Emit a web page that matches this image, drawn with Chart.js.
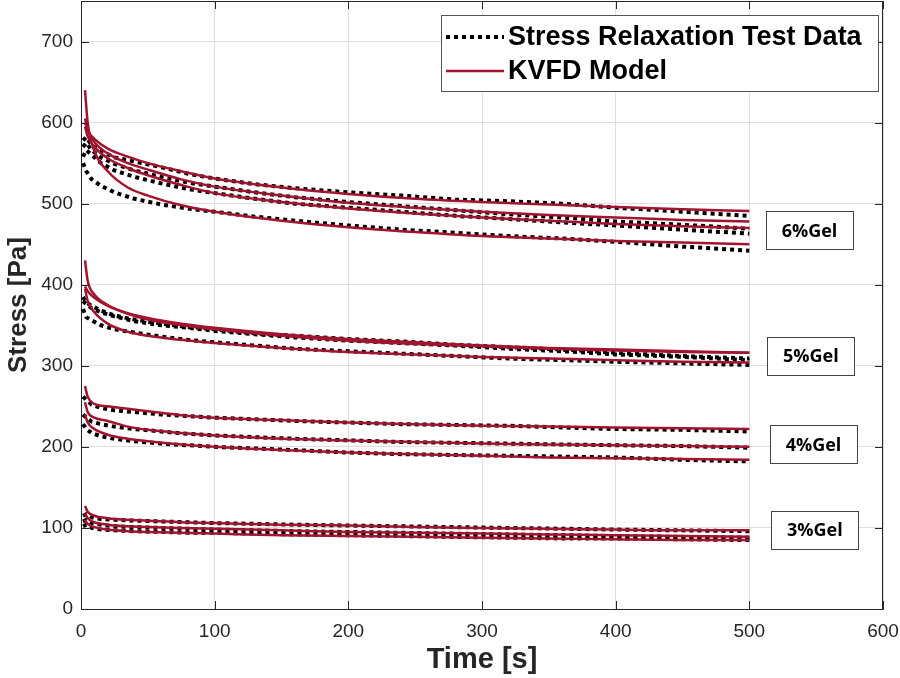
<!DOCTYPE html>
<html>
<head>
<meta charset="utf-8">
<script src="https://cdn.jsdelivr.net/npm/chart.js@4.4.0/dist/chart.umd.min.js"></script>
<style>
body{margin:0;background:#fff;}
</style>
</head>
<body>
<canvas id="chart" width="900" height="678"></canvas>
<script>

// time points (s)
let tModel=[3,5,10,20,35,50,75,100,150,200,250,300,350,400,450,500];
let tData=[1.5,4,8,15,25,40,60,80,100,130,160,200,240,280,320,360,400,450,500];

// KVFD model fits (Pa)
let model6a=[600,590,580,568,558,550,540,531,520,512,506,502,499,496,493,491];
let model6b=[605,592,576,562,550,542,530,521,510,501,495,490,486,483,480,478];
let model6c=[595,583,570,556,544,535,523,513,502,494,488,483,479,475,472,470];
let model6d=[640,600,565,540,520,510,498,490,479,471,465,460,457,454,452,450];
let model5a=[430,405,388,375,364,357,350,345,337,331,327,324,321,319,317,316];
let model5b=[398,392,384,374,365,359,352,347,339,333,329,325,322,320,318,316];
let model5c=[395,380,366,352,342,337,332,328,322,317,314,311,309,307,305,304];
let model4a=[275,262,253,250,247,244,239,236,233,230,228,226,225,224,223,222];
let model4b=[255,243,236,232,225,221,217,214,210,208,206,204,203,202,201,200];
let model4c=[240,230,222,215,210,207,203,200,196,193,191,189,187,186,185,184];
let model3a=[127,120,115,112,110,109,107,106,104,103,101,100,99,98,97,97];
let model3b=[118,112,107,104,102,101,100,99,97,95,94,93,92,91,90,89];
let model3c=[110,105,101,98,96,95,94,93,91,90,89,88,87,86,85,85];

// stress relaxation test data (Pa)
let data6a=[578,582,572,565,557,552,545,537,531,524,519,514,510,505,503,500,495,490,485];
let data6b=[570,575,566,557,549,541,533,526,521,514,508,502,497,492,487,483,478,474,469];
let data6c=[558,566,560,550,541,533,525,518,513,506,500,495,490,485,481,477,473,468,463];
let data6d=[550,540,530,522,514,506,499,494,490,484,479,473,468,464,460,457,453,447,442];
let data5a=[385,378,374,368,362,357,352,348,345,340,337,333,330,326,323,320,316,312,309];
let data5b=[380,376,371,366,361,355,350,347,343,339,335,331,328,325,321,318,314,311,307];
let data5c=[370,360,356,350,345,341,336,332,329,325,321,318,315,312,309,307,305,303,301];
let data4a=[262,258,252,248,245,243,240,238,236,234,232,230,228,227,226,224,222,221,219];
let data4b=[240,236,231,228,225,222,219,216,214,212,210,208,206,205,204,203,202,201,199];
let data4c=[228,222,217,213,210,207,204,202,200,198,196,193,191,190,189,188,187,184,182];
let data3a=[115,117,113,111,110,109,108,107,106,105,104,103,102,101,100,99,98,97,96];
let data3b=[108,110,106,104,102,101,100,99,98,97,96,95,94,93,92,91,90,89,88];
let data3c=[102,104,100,98,97,96,95,94,94,93,92,91,90,89,88,87,87,86,85];

let modelSeries=[model6a,model6b,model6c,model6d,model5a,model5b,model5c,model4a,model4b,model4c,model3a,model3b,model3c];
let dataSeries=[data6a,data6b,data6c,data6d,data5a,data5b,data5c,data4a,data4b,data4c,data3a,data3b,data3c];

let legendLabels=["Stress Relaxation Test Data","KVFD Model"];
let gelLabels=["6%Gel","5%Gel","4%Gel","3%Gel"];
let gelLabelX=[545,546,548,549];
let gelLabelY=[467,312,203,97];

let xTicks=[0,100,200,300,400,500,600];
let yTicks=[0,100,200,300,400,500,600,700];

let red="#A2142F";
let axisColor="#262626";

function toPoints(times,values){
return times.map(function(t,i){return {x:t,y:values[i]};});
}

let datasets=[];

dataSeries.forEach(function(s){
datasets.push({
data:toPoints(tData,s),
borderColor:"#000",
borderWidth:4,
borderDash:[4,4],
borderCapStyle:"butt",
pointRadius:0,
tension:0,
fill:false,
order:2
});
});

modelSeries.forEach(function(s){
datasets.push({
data:toPoints(tModel,s),
borderColor:red,
borderWidth:2.5,
pointRadius:0,
cubicInterpolationMode:"monotone",
fill:false,
order:1
});
});

/* box, inner ticks, legend and gel labels */

let extras={
id:"extras",
afterDraw:function(chart){
let ctx=chart.ctx;
let a=chart.chartArea;
let x=chart.scales.x;
let y=chart.scales.y;

ctx.save();
ctx.strokeStyle=axisColor;
ctx.lineWidth=1;
ctx.beginPath();
ctx.moveTo(a.left,a.top+0.5);
ctx.lineTo(a.right-0.5,a.top+0.5);
ctx.lineTo(a.right-0.5,a.bottom);
ctx.stroke();

ctx.beginPath();
xTicks.forEach(function(v){
let px=Math.round(x.getPixelForValue(v))+0.5;
ctx.moveTo(px,a.bottom);ctx.lineTo(px,a.bottom-8);
ctx.moveTo(px,a.top);ctx.lineTo(px,a.top+8);
});
yTicks.forEach(function(v){
let py=Math.round(y.getPixelForValue(v))+0.5;
ctx.moveTo(a.left,py);ctx.lineTo(a.left+8,py);
ctx.moveTo(a.right,py);ctx.lineTo(a.right-8,py);
});
ctx.stroke();

/* legend */
ctx.fillStyle="#fff";
ctx.fillRect(441,15,437,76);
ctx.strokeStyle="#555";
ctx.strokeRect(441.5,15.5,437,76);

ctx.strokeStyle="#000";
ctx.lineWidth=4;
ctx.setLineDash([4,4]);
ctx.beginPath();ctx.moveTo(446,37);ctx.lineTo(504,37);ctx.stroke();
ctx.setLineDash([]);
ctx.strokeStyle=red;
ctx.lineWidth=2.5;
ctx.beginPath();ctx.moveTo(446,71);ctx.lineTo(504,71);ctx.stroke();

ctx.fillStyle="#000";
ctx.font="bold 27px 'Liberation Sans', Arial, sans-serif";
ctx.textAlign="left";
ctx.textBaseline="middle";
ctx.fillText(legendLabels[0],508,38);
ctx.fillText(legendLabels[1],508,72);

/* gel labels */
ctx.font="bold 18px 'Open Sans', sans-serif";
ctx.textAlign="center";
ctx.lineWidth=1;
gelLabels.forEach(function(txt,i){
let cx=x.getPixelForValue(gelLabelX[i]);
let cy=y.getPixelForValue(gelLabelY[i]);
ctx.fillStyle="#fff";
ctx.fillRect(cx-43.5,cy-19,87,38);
ctx.strokeStyle="#444";
ctx.strokeRect(Math.round(cx-43.5)+0.5,Math.round(cy-19)+0.5,87,38);
ctx.fillStyle="#000";
ctx.fillText(txt,cx,cy+1);
});

ctx.restore();
}
};

let tickFont={family:"'Liberation Sans', Arial, sans-serif",size:19};

new Chart(document.getElementById("chart"),{
type:"line",
data:{datasets:datasets},
options:{
responsive:false,
animation:false,
layout:{padding:{top:1,right:17,left:0,bottom:0}},
plugins:{
legend:{display:false},
tooltip:{enabled:false}
},
scales:{
x:{
type:"linear",
min:0,
max:600,
ticks:{stepSize:100,padding:11,font:tickFont,color:axisColor,maxRotation:0},
grid:{color:"#dfdfdf",drawTicks:false},
border:{color:axisColor,width:1},
title:{display:true,text:"Time [s]",font:{family:"'Liberation Sans', Arial, sans-serif",size:29,weight:"bold"},color:axisColor,padding:{top:0,bottom:1}},
afterFit:function(s){s.height=69;s.paddingLeft=0;s.paddingRight=0;}
},
y:{
min:0,
max:750,
ticks:{stepSize:100,padding:8,font:tickFont,color:axisColor},
afterBuildTicks:function(s){s.ticks=s.ticks.filter(function(t){return t.value<=700;});},
grid:{color:"#dfdfdf",drawTicks:false},
border:{color:axisColor,width:1},
title:{display:true,text:"Stress [Pa]",font:{family:"'Liberation Sans', Arial, sans-serif",size:26,weight:"bold"},color:axisColor,padding:{top:3,bottom:0}},
afterFit:function(s){s.width=81;s.paddingTop=0;s.paddingBottom=0;}
}
}
},
plugins:[extras]
});

</script>
</body>
</html>
